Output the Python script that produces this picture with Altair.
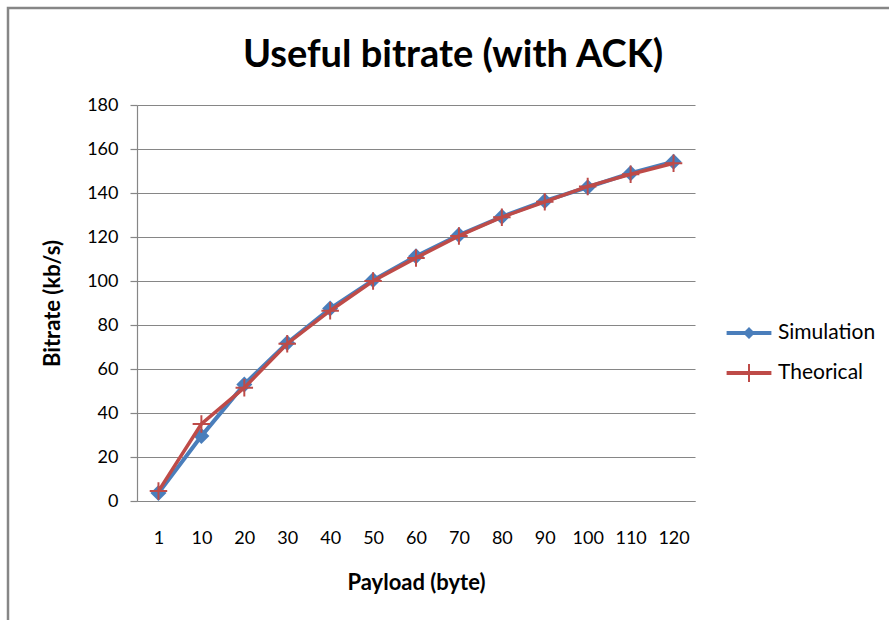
import json
import altair as alt
import pandas as pd

payload_labels = ["1", "10", "20", "30", "40", "50", "60", "70", "80", "90", "100", "110", "120"]
simulation = [3.6, 29.5, 53.0, 71.8, 87.5, 100.4, 111.2, 120.9, 129.2, 136.4, 142.6, 149.0, 154.2]
theorical = [4.5, 35.0, 51.5, 71.5, 86.5, 100.0, 110.5, 120.5, 129.0, 136.0, 143.0, 148.5, 153.5]
series_names = ["Simulation", "Theorical"]
series_colors = ["#4a7ebb", "#be4b48"]
y_ticks = list(range(0, 181, 20))

rows = []
for i, lab in enumerate(payload_labels):
    rows.append({"idx": i, "payload": lab, "series": series_names[0], "bitrate": simulation[i]})
    rows.append({"idx": i, "payload": lab, "series": series_names[1], "bitrate": theorical[i]})
df = pd.DataFrame(rows)

FONT = "Lato"
GRAY = "#868686"

label_expr = json.dumps(payload_labels) + "[datum.value]"

x_enc = alt.X(
    "idx:Q",
    scale=alt.Scale(domain=[-0.5, len(payload_labels) - 0.5], nice=False, zero=False),
    axis=alt.Axis(
        values=list(range(len(payload_labels))),
        labelExpr=label_expr,
        grid=False,
        ticks=False,
        domain=True,
        labelPadding=37,
        labelBaseline="middle",
        labelFlush=False,
        labelOverlap=False,
        title="Payload (byte)",
        titleY=81,
        titleBaseline="middle",
    ),
)
y_enc = alt.Y(
    "bitrate:Q",
    scale=alt.Scale(domain=[0, 180], nice=False),
    axis=alt.Axis(
        values=y_ticks,
        grid=True,
        ticks=True,
        tickSize=7,
        labelPadding=12,
        labelBaseline="middle",
        title="Bitrate (kb/s)",
        titleX=-85,
        titleBaseline="middle",
    ),
)

base = alt.Chart(df).encode(x=x_enc, y=y_enc)

diamond_path = "M0,-1L1,0L0,1L-1,0Z"
plus_path = "M-1.25,-0.14H1.25V0.14H-1.25Z M-0.14,-1.25H0.14V1.25H-0.14Z"

sim_f = "datum.series == 'Simulation'"
th_f = "datum.series == 'Theorical'"

line_sim = base.transform_filter(sim_f).mark_line(color=series_colors[0], strokeWidth=4)
pt_sim = base.transform_filter(sim_f).mark_point(
    shape=diamond_path, filled=True, color=series_colors[0], size=256, opacity=1
)
line_th = base.transform_filter(th_f).mark_line(color=series_colors[1], strokeWidth=3.5)
pt_th = base.transform_filter(th_f).mark_point(
    shape=plus_path, filled=True, color=series_colors[1], size=196, opacity=1
)

leg_line = "M-1.12,-0.1H1.12V0.1H-1.12Z"
leg_sim = leg_line + " M0,-0.3L0.3,0L0,0.3L-0.3,0Z"
leg_th = leg_line + " M-0.05,-0.45H0.05V0.45H-0.05Z"

legend_props = dict(
    orient="none",
    legendX=592,
    legendY=208,
    title=None,
    labelFont=FONT,
    labelFontSize=21,
    labelColor="#000000",
    symbolSize=1600,
    rowPadding=10,
    padding=0,
    labelOffset=9,
    symbolStrokeWidth=0,
)

legend_layer = base.transform_filter("datum.idx < 0").mark_point(
    filled=True, opacity=1, size=1600
).encode(
    color=alt.Color(
        "series:N",
        scale=alt.Scale(domain=series_names, range=series_colors),
        legend=alt.Legend(**legend_props),
    ),
    shape=alt.Shape(
        "series:N",
        scale=alt.Scale(domain=series_names, range=[leg_sim, leg_th]),
        legend=alt.Legend(**legend_props),
    ),
)

border = alt.Chart(pd.DataFrame({"k": [0]})).mark_rect(
    fill="transparent", stroke=GRAY, strokeWidth=2.5
).encode(
    x=alt.value(-129), x2=alt.value(900), y=alt.value(-97), y2=alt.value(540)
)

chart = alt.layer(
    border, line_sim, pt_sim, line_th, pt_th, legend_layer
).properties(
    width=558,
    height=396,
    background="white",
    padding={"left": 137, "top": 105, "right": 194, "bottom": 119},
    autosize=alt.AutoSizeParams(type="none"),
    title=alt.TitleParams(
        "Useful bitrate (with ACK)",
        font=FONT,
        fontSize=38,
        fontWeight="bold",
        color="#000000",
        anchor="middle",
        frame="group",
        baseline="alphabetic",
        dx=37,
        dy=98,
        offset=0,
    ),
).configure_view(
    stroke=None
).configure_axis(
    domainColor=GRAY,
    domainWidth=1.2,
    gridColor=GRAY,
    gridWidth=1.2,
    tickColor=GRAY,
    tickWidth=1.2,
    labelFont=FONT,
    labelFontSize=18,
    labelColor="#000000",
    titleFont=FONT,
    titleFontSize=22,
    titleFontWeight="bold",
    titleColor="#000000",
)

chart.save("out.html", embed_options={"renderer": "svg", "actions": False})
